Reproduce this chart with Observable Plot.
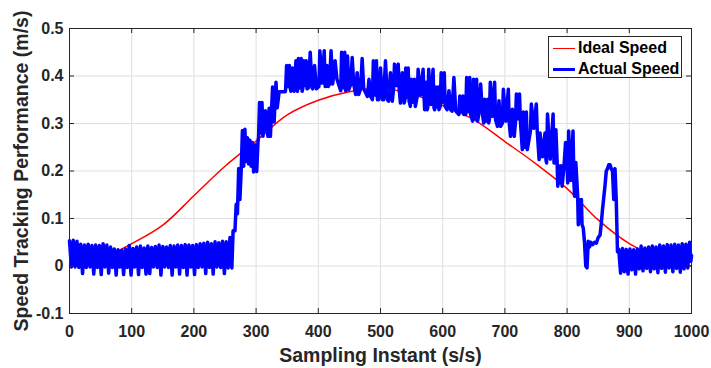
<!DOCTYPE html>
<html>
<head>
<meta charset="utf-8">
<script src="https://cdn.jsdelivr.net/npm/d3@7"></script>
<script src="https://cdn.jsdelivr.net/npm/@observablehq/plot@0.6"></script>
<style>
  html, body { margin: 0; padding: 0; background: #ffffff; }
  #wrap { position: relative; width: 711px; height: 368px; }
  #legend {
    position: absolute; left: 548px; top: 36px; width: 134px; height: 42px;
    border: 1px solid #262626; background: #ffffff; box-sizing: border-box;
    font-family: "Liberation Sans", Arial, sans-serif; font-weight: bold; font-size: 16px; color: #000;
  }
  .row { position: absolute; left: 0; height: 20px; display: flex; align-items: center; }
  .sw { width: 22px; height: 0; margin-left: 4px; margin-right: 3px; }
</style>
</head>
<body>
<div id="wrap"></div>
<script>
const xTicks = [0, 100, 200, 300, 400, 500, 600, 700, 800, 900, 1000];
const yTicks = [-0.1, 0, 0.1, 0.2, 0.3, 0.4, 0.5];
const xLabel = "Sampling Instant (s/s)";
const yLabel = "Speed Tracking Performance (m/s)";
const seriesNames = ["Ideal Speed", "Actual Speed"];
const seriesColors = ["#ff0000", "#0000ff"];

// Ideal speed (red)
const idealX = [0, 50, 100, 150, 200, 250, 300, 350, 400, 450, 500, 550, 600, 650, 700, 750, 800, 850, 900, 950, 1000];
const idealSpeed = [0.000, 0.015, 0.047, 0.086, 0.148, 0.210, 0.263, 0.318, 0.349, 0.367, 0.374, 0.362, 0.338, 0.308, 0.262, 0.215, 0.163, 0.097, 0.047, 0.015, 0.000];

// Actual speed (blue), [sampling instant, speed]
const actualSpeed = [
[0,0.053],[3,-0.002],[6,0.054],[9,-0.002],[12,0.052],[15,-0.003],[18,0.046],[21,-0.016],[24,0.044],[27,-0.003],
[30,0.046],[33,-0.002],[36,0.043],[39,-0.017],[42,0.044],[45,-0.003],[48,0.043],[51,-0.018],[54,0.047],[57,-0.002],
[60,0.044],[63,-0.015],[66,0.040],[69,-0.003],[72,0.036],[75,-0.019],[78,0.034],[81,-0.002],[84,0.033],[87,-0.018],
[90,0.036],[93,-0.003],[96,0.043],[99,-0.019],[102,0.037],[105,-0.002],[108,0.040],[111,-0.018],[114,0.042],[117,-0.003],
[120,0.038],[123,-0.017],[126,0.042],[129,-0.016],[132,0.039],[135,-0.002],[138,0.041],[141,-0.003],[144,0.044],[147,-0.019],
[150,0.041],[153,-0.002],[156,0.040],[159,-0.003],[162,0.043],[165,-0.019],[168,0.042],[171,-0.002],[174,0.044],[177,-0.017],
[180,0.043],[183,-0.003],[186,0.045],[189,-0.019],[192,0.044],[195,-0.002],[198,0.043],[201,-0.018],[204,0.045],[207,-0.003],
[210,0.047],[213,-0.002],[216,0.048],[219,-0.016],[222,0.050],[225,-0.003],[228,0.047],[231,-0.017],[234,0.051],[237,-0.002],
[240,0.049],[243,-0.003],[246,0.052],[249,-0.016],[252,0.051],[255,-0.004],[258,0.060],[261,-0.004],[263,0.074],[266,0.074],
[268,0.130],[270,0.110],[272,0.205],[274,0.140],[276,0.200],[278,0.285],[280,0.210],[282,0.288],[284,0.220],[286,0.270],
[288,0.215],[290,0.265],[292,0.210],[294,0.260],[296,0.198],[299,0.255],[301,0.199],[303,0.260],
[304,0.273],[305.5,0.344],[307.5,0.280],[309.5,0.344],[311,0.273],[312,0.283],[315,0.327],[318,0.283],[319,0.273],[321,0.332],[323,0.273],
[324,0.303],[326.5,0.377],[329,0.303],[330,0.333],[332,0.387],[334,0.333],[337,0.367],[347,0.367],
[347.5,0.373],[349,0.422],[351.25,0.378],[353.5,0.422],[355,0.373],[356,0.368],[358.5,0.417],[361,0.368],[362,0.373],[364,0.432],[366,0.373],
[366.5,0.368],[368,0.437],[370.25,0.375],[372.5,0.437],[374,0.368],[375,0.373],[376.5,0.432],[378.5,0.380],[380.5,0.432],[382,0.373],
[384,0.375],[387,0.450],[390,0.375],[391,0.373],[394,0.422],[397,0.373],[401,0.378],[402.5,0.453],[406,0.385],[409.5,0.453],[411,0.378],
[412,0.378],[414,0.422],[416,0.378],[418,0.383],[420.5,0.453],[423,0.383],[424,0.393],[427,0.432],[430,0.393],
[436,0.369],[437.5,0.450],[440,0.375],[442.5,0.450],[444,0.369],[445,0.371],[447,0.442],[449,0.371],[452,0.382],[454.5,0.439],[457,0.382],
[460,0.361],[462.5,0.407],[465,0.361],[468,0.373],[470.5,0.437],[473,0.373],[479,0.357],[481.5,0.393],[484,0.357],
[487,0.350],[488.5,0.432],[491,0.360],[493.5,0.432],[495,0.350],[497,0.350],[500,0.417],[503,0.350],[505,0.350],[508,0.432],[511,0.350],
[513,0.347],[516,0.407],[519,0.347],[521,0.373],[522.5,0.425],[525.5,0.380],[528.5,0.425],[530,0.373],[532,0.343],[535,0.407],[538,0.343],
[539,0.347],[540.5,0.417],[542.5,0.355],[544.5,0.417],[546,0.347],[548,0.336],[549.5,0.393],[552,0.345],[554.5,0.393],[556,0.336],
[559,0.357],[560.5,0.414],[564.5,0.360],[568.5,0.414],[570,0.357],[571,0.329],[573,0.387],[575,0.329],
[576,0.333],[577.5,0.414],[581,0.340],[584.5,0.414],[586,0.333],[587,0.329],[588.5,0.377],[590.5,0.335],[592.5,0.377],[594,0.329],
[596,0.336],[597.5,0.407],[600,0.345],[602.5,0.407],[604,0.336],[607,0.329],[610,0.369],[613,0.329],[615,0.326],[618,0.397],[621,0.326],
[626,0.319],[627.5,0.358],[630,0.325],[632.5,0.358],[634,0.319],[637,0.319],[638.5,0.397],[641,0.325],[643.5,0.397],[645,0.319],
[648,0.305],[649.5,0.393],[652,0.310],[654.5,0.393],[656,0.305],[658,0.319],[661,0.383],[664,0.319],
[666,0.301],[667.5,0.351],[670,0.305],[672.5,0.351],[674,0.301],[675,0.308],[676.5,0.387],[680,0.315],[683.5,0.387],[685,0.308],
[688,0.294],[690.5,0.348],[693,0.294],[696,0.301],[697.5,0.372],[701.5,0.305],[705.5,0.372],[707,0.301],[709,0.273],[712,0.330],[715,0.273],
[717,0.303],[718.5,0.362],[721,0.310],[723.5,0.362],[725,0.303],[728,0.245],[729.5,0.324],[732,0.250],[734.5,0.324],[736,0.245],
[741,0.284],[742.5,0.341],[746.5,0.290],[750.5,0.341],[752,0.284],[755,0.224],[756.5,0.280],[760.5,0.230],[764.5,0.280],[766,0.224],
[767,0.217],[768.5,0.320],[773,0.225],[777.5,0.320],[779,0.217],[780,0.217],[782,0.287],[784,0.217],
[785,0.168],[786.5,0.211],[788.5,0.175],[790.5,0.211],[792,0.168],[795,0.210],[797.5,0.260],[800,0.210],
[801,0.175],[802.5,0.284],[806,0.180],[809.5,0.284],[811,0.175],[812,0.147],[814,0.218],[817,0.147],
[818,0.087],[819,0.140],[821,0.095],[823,0.140],[824,0.087],[826,0.080],[828,0.050],[830,0.000],
[832,-0.004],[834,0.052],[836,0.040],[838,0.050],[841,0.045],[844,0.050],[847,0.048],[850,0.060],[853,0.065],[855,0.090],
[857,0.120],[859,0.145],[861,0.170],[863,0.200],[865,0.205],[867,0.213],[869,0.213],[871,0.205],[873,0.200],[875,0.140],
[877,0.205],[879,0.140],[881,0.030],[883,0.035],[886,-0.015],[889,0.037],[892,-0.012],[895,0.035],[898,-0.017],[901,0.036],
[904,-0.008],[907,0.034],[910,-0.017],[913,0.036],[916,-0.006],[919,0.042],[922,-0.010],[925,0.038],[928,-0.005],[931,0.040],
[934,-0.012],[937,0.042],[940,-0.006],[943,0.040],[946,-0.014],[949,0.044],[952,-0.005],[955,0.042],[958,-0.013],[961,0.045],
[964,-0.004],[967,0.044],[970,-0.012],[973,0.046],[976,-0.005],[979,0.044],[982,-0.013],[985,0.047],[988,-0.006],[991,0.046],
[994,-0.004],[997,0.050],[999,0.010],[1000,0.022]
];

const ideal = idealX.map((x, i) => ({x, y: idealSpeed[i]}));

const W = 711, H = 368, mL = 69, mR = 20, mT = 28, mB = 55;
const plotW = W - mL - mR, plotH = H - mT - mB;
const tickLen = 5;
const fmtY = d => String(+d.toFixed(1));

const chart = Plot.plot({
  width: W, height: H,
  marginLeft: mL, marginRight: mR, marginTop: mT, marginBottom: mB,
  style: {fontFamily: "'Liberation Sans', Arial, sans-serif", fontWeight: "bold", fontSize: "16px", color: "#262626", background: "#ffffff"},
  x: {domain: [0, 1000]},
  y: {domain: [-0.1, 0.5]},
  marks: [
    Plot.gridX({ticks: xTicks, stroke: "#dfdfdf", strokeOpacity: 1, strokeWidth: 1}),
    Plot.gridY({ticks: yTicks, stroke: "#dfdfdf", strokeOpacity: 1, strokeWidth: 1}),
    Plot.line(ideal, {x: "x", y: "y", stroke: seriesColors[0], strokeWidth: 1.5, curve: "catmull-rom"}),
    Plot.line(actualSpeed, {x: d => d[0], y: d => d[1], stroke: seriesColors[1], strokeWidth: 3.5, strokeLinejoin: "round", strokeLinecap: "round"}),
    Plot.frame({stroke: "#262626", strokeWidth: 1}),
    Plot.tickX(xTicks, {x: d => d, stroke: "#262626", insetTop: plotH - tickLen}),
    Plot.tickX(xTicks, {x: d => d, stroke: "#262626", insetBottom: plotH - tickLen}),
    Plot.tickY(yTicks, {y: d => d, stroke: "#262626", insetRight: plotW - tickLen}),
    Plot.tickY(yTicks, {y: d => d, stroke: "#262626", insetLeft: plotW - tickLen}),
    Plot.axisX({ticks: xTicks, tickSize: 0, tickPadding: 12, tickFormat: d => String(d), label: null}),
    Plot.axisY({ticks: yTicks, tickSize: 0, tickPadding: 6, tickFormat: fmtY, label: null}),
    Plot.text([xLabel], {text: d => d, frameAnchor: "bottom", textAnchor: "middle", lineAnchor: "middle", dy: 42, fontSize: 19.5, fontWeight: "bold", fill: "#262626"}),
    Plot.text([yLabel], {text: d => d, frameAnchor: "left", textAnchor: "middle", lineAnchor: "middle", dx: -48, rotate: -90, fontSize: 19.5, fontWeight: "bold", fill: "#262626"})
  ]
});

const wrap = document.getElementById("wrap");
wrap.appendChild(chart);

const legend = document.createElement("div");
legend.id = "legend";
seriesNames.forEach((name, i) => {
  const row = document.createElement("div");
  row.className = "row";
  row.style.top = (1 + i * 21) + "px";
  const sw = document.createElement("span");
  sw.className = "sw";
  sw.style.borderTop = (i === 0 ? "1.5px" : "3px") + " solid " + seriesColors[i];
  const t = document.createElement("span");
  t.textContent = name;
  row.appendChild(sw);
  row.appendChild(t);
  legend.appendChild(row);
});
wrap.appendChild(legend);
</script>
</body>
</html>
